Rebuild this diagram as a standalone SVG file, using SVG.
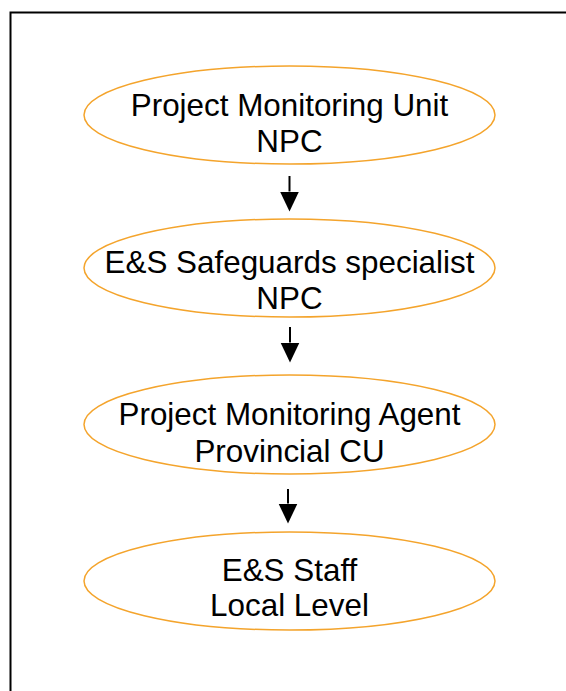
<svg xmlns="http://www.w3.org/2000/svg" width="566" height="691" viewBox="0 0 566 691">
  <style>
    .node ellipse { fill: #ffffff; stroke: #F4A42C; stroke-width: 1.5; }
    .node text { font-family: "Liberation Sans", Arial, sans-serif; font-size: 31.4px; fill: #000000; text-anchor: middle; }
    .conn line { stroke: #000000; stroke-width: 2; }
  </style>
  <defs>
    <marker id="arrow" markerUnits="userSpaceOnUse" viewBox="0 -10 20 20" refX="0" refY="0" markerWidth="20" markerHeight="20" orient="auto">
      <path d="M0,-9.5 L20,0 L0,9.5 z" fill="#000000"/>
    </marker>
  </defs>
  <rect x="0" y="0" width="566" height="691" fill="#ffffff"/>
  <path d="M10.5,691 V12.5 H566" fill="none" stroke="#000000" stroke-width="2"/>

  <g id="connectors" class="conn">
    <line x1="289.5" y1="176" x2="289.5" y2="191.5" marker-end="url(#arrow)"/>
    <line x1="290" y1="327" x2="290" y2="342.5" marker-end="url(#arrow)"/>
    <line x1="288" y1="489" x2="288" y2="503.5" marker-end="url(#arrow)"/>
  </g>

  <g id="node-pmu" class="node">
    <ellipse cx="289.5" cy="115" rx="205.5" ry="49"/>
    <text x="289.5" y="116">Project Monitoring Unit</text>
    <text x="289.5" y="152">NPC</text>
  </g>
  <g id="node-es-specialist" class="node">
    <ellipse cx="289.5" cy="268" rx="205.5" ry="49"/>
    <text x="289.5" y="273">E&amp;S Safeguards specialist</text>
    <text x="289.5" y="309">NPC</text>
  </g>
  <g id="node-pma" class="node">
    <ellipse cx="289.5" cy="424.5" rx="205.5" ry="49.5"/>
    <text x="289.5" y="425">Project Monitoring Agent</text>
    <text x="289.5" y="461.5">Provincial CU</text>
  </g>
  <g id="node-es-staff" class="node">
    <ellipse cx="289.5" cy="581" rx="205.5" ry="49"/>
    <text x="289.5" y="581">E&amp;S Staff</text>
    <text x="289.5" y="616">Local Level</text>
  </g>
</svg>
